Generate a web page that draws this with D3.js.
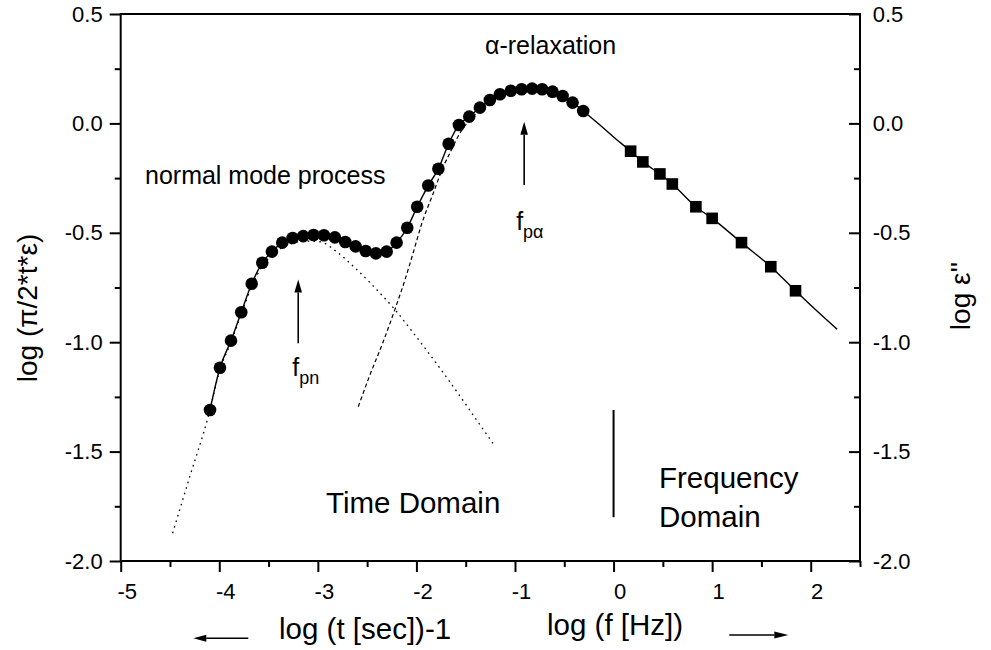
<!DOCTYPE html>
<html>
<head>
<meta charset="utf-8">
<script src="https://cdn.jsdelivr.net/npm/d3@7"></script>
<style>
  body { margin: 0; background: #fff; }
  svg { display: block; }
  text { font-family: "Liberation Sans", Arial, Helvetica, sans-serif; fill: #000; }
</style>
</head>
<body>
<svg id="chart" width="991" height="650"></svg>
<script>
// Time-domain measurements (circles), converted to loss
const circleX = [-4.094, -3.993, -3.881, -3.777, -3.671, -3.564, -3.466, -3.361, -3.256, -3.148,
                 -3.043, -2.938, -2.827, -2.722, -2.617, -2.515, -2.411, -2.302, -2.201, -2.093,
                 -1.992, -1.880, -1.777, -1.673, -1.569, -1.464, -1.356, -1.255, -1.153, -1.042,
                 -0.933, -0.826, -0.724, -0.619, -0.517, -0.416, -0.308];
const circleY = [-1.310, -1.117, -0.993, -0.863, -0.733, -0.637, -0.586, -0.545, -0.524, -0.515,
                 -0.510, -0.511, -0.521, -0.542, -0.562, -0.583, -0.594, -0.586, -0.545, -0.477,
                 -0.381, -0.284, -0.207, -0.093, -0.007, 0.031, 0.072, 0.107, 0.133, 0.149,
                 0.156, 0.159, 0.156, 0.145, 0.125, 0.095, 0.057];

// Frequency-domain measurements (squares)
const squareX = [0.173, 0.297, 0.470, 0.596, 0.835, 1.000, 1.298, 1.595, 1.846];
const squareY = [-0.127, -0.176, -0.231, -0.277, -0.381, -0.434, -0.545, -0.655, -0.765];

// Total fit (solid line)
const totalFitX = [-4.094, -3.993, -3.881, -3.777, -3.671, -3.564, -3.466, -3.361, -3.256, -3.148,
                   -3.043, -2.938, -2.827, -2.722, -2.617, -2.515, -2.411, -2.302, -2.201, -2.093,
                   -1.992, -1.880, -1.777, -1.673, -1.569, -1.464, -1.356, -1.255, -1.153, -1.042,
                   -0.933, -0.826, -0.724, -0.619, -0.517, -0.416, -0.308, -0.150, 0.000,
                   0.173, 0.297, 0.470, 0.596, 0.835, 1.000, 1.298, 1.595, 1.846, 2.050, 2.268];
const totalFitY = [-1.310, -1.117, -0.993, -0.863, -0.733, -0.637, -0.586, -0.545, -0.524, -0.515,
                   -0.510, -0.511, -0.521, -0.542, -0.562, -0.583, -0.594, -0.586, -0.545, -0.477,
                   -0.381, -0.284, -0.207, -0.093, -0.007, 0.031, 0.072, 0.107, 0.133, 0.149,
                   0.156, 0.159, 0.156, 0.145, 0.125, 0.095, 0.057, -0.003, -0.062,
                   -0.127, -0.176, -0.231, -0.277, -0.381, -0.434, -0.545, -0.655, -0.765, -0.852, -0.941];

// Normal mode contribution (dotted)
const normalFitX = [-4.473, -4.297, -4.115, -3.993, -3.881, -3.777, -3.671, -3.564, -3.466, -3.361,
                    -3.256, -3.148, -2.980, -2.810, -2.660, -2.470, -2.340, -2.220, -2.070, -1.900,
                    -1.730, -1.560, -1.390, -1.204];
const normalFitY = [-1.873, -1.611, -1.345, -1.125, -1.000, -0.872, -0.745, -0.652, -0.603, -0.568,
                    -0.548, -0.538, -0.541, -0.586, -0.645, -0.728, -0.790, -0.850, -0.935, -1.035,
                    -1.138, -1.245, -1.355, -1.475];

// Alpha relaxation contribution (dashed)
const alphaFitX = [-2.590, -2.472, -2.337, -2.218, -2.117, -2.032, -1.947, -1.830, -1.720, -1.660,
                   -1.559, -1.460, -1.360, -1.250];
const alphaFitY = [-1.295, -1.150, -0.998, -0.850, -0.716, -0.590, -0.460, -0.320, -0.190, -0.135,
                   -0.045, 0.015, 0.058, 0.095];

// Peak markers: position and arrow span
const peakNames = ["pn", "p\u03b1"];
const peakX = [-3.199, -0.907];
const peakArrowFrom = [-1.005, -0.282];
const peakArrowTo = [-0.713, 0.008];

// Boundary between the two domains
const boundaryX = [0, 0];
const boundaryY = [-1.31, -1.80];

const xTicks = [-5, -4, -3, -2, -1, 0, 1, 2];
const xMinorTicks = [-4.5, -3.5, -2.5, -1.5, -0.5, 0.5, 1.5, 2.5];
const yTicks = [-2.0, -1.5, -1.0, -0.5, 0.0, 0.5];
const yMinorTicks = [-1.75, -1.25, -0.75, -0.25, 0.25];

const svg = d3.select("#chart");
svg.append("rect").attr("width", 991).attr("height", 650).attr("fill", "#fff");

const plotLeft = 120.7, plotRight = 860, plotTop = 14, plotBottom = 561;
const x = d3.scaleLinear().domain([-5, 2.5]).range([plotLeft, plotRight]);
const y = d3.scaleLinear().domain([-2, 0.5]).range([plotBottom, plotTop]);

const TICK_FONT = 22;

function styleAxis(g) {
  g.select(".domain").remove();
  g.selectAll(".tick line").attr("stroke", "#000").attr("stroke-width", 2);
  g.selectAll(".tick text")
    .attr("fill", "#000")
    .style("font-size", TICK_FONT + "px")
    .style("font-family", '"Liberation Sans", Arial, sans-serif');
}

// Bottom axis
svg.append("g").attr("transform", `translate(0,${plotBottom})`)
  .call(d3.axisBottom(x).tickValues(xTicks).tickSize(11).tickPadding(11)
        .tickFormat(d => String(d)))
  .call(styleAxis)
  .call(g => g.selectAll(".tick text").attr("dx", 6));
svg.append("g").attr("transform", `translate(0,${plotBottom})`)
  .call(d3.axisBottom(x).tickValues(xMinorTicks).tickSize(6).tickFormat(""))
  .call(styleAxis);

// Left axis
svg.append("g").attr("transform", `translate(${plotLeft},0)`)
  .call(d3.axisLeft(y).tickValues(yTicks).tickSize(11).tickPadding(7)
        .tickFormat(d => d.toFixed(1)))
  .call(styleAxis);
svg.append("g").attr("transform", `translate(${plotLeft},0)`)
  .call(d3.axisLeft(y).tickValues(yMinorTicks).tickSize(6).tickFormat(""))
  .call(styleAxis);

// Right axis (ticks pointing inward)
svg.append("g").attr("transform", `translate(${plotRight},0)`)
  .call(d3.axisRight(y).tickValues(yTicks).tickSize(-11).tickPadding(12.7)
        .tickFormat(d => d.toFixed(1)))
  .call(styleAxis);
svg.append("g").attr("transform", `translate(${plotRight},0)`)
  .call(d3.axisRight(y).tickValues(yMinorTicks).tickSize(-6).tickFormat(""))
  .call(styleAxis);

// Frame
svg.append("rect")
  .attr("x", plotLeft).attr("y", plotTop)
  .attr("width", plotRight - plotLeft).attr("height", plotBottom - plotTop)
  .attr("fill", "none").attr("stroke", "#000").attr("stroke-width", 2);

const zip = (xs, ys) => xs.map((v, i) => [v, ys[i]]);
const line = d3.line().x(d => x(d[0])).y(d => y(d[1])).curve(d3.curveMonotoneX);

// Component fits
svg.append("path").datum(zip(normalFitX, normalFitY))
  .attr("d", line).attr("fill", "none").attr("stroke", "#000")
  .attr("stroke-width", 1.3).attr("stroke-dasharray", "1.6,4.2");
svg.append("path").datum(zip(alphaFitX, alphaFitY))
  .attr("d", line).attr("fill", "none").attr("stroke", "#000")
  .attr("stroke-width", 1.2).attr("stroke-dasharray", "4,2.8");

// Total fit
svg.append("path").datum(zip(totalFitX, totalFitY))
  .attr("d", line).attr("fill", "none").attr("stroke", "#000")
  .attr("stroke-width", 1.4);

// Markers
svg.append("g").selectAll("circle").data(zip(circleX, circleY)).join("circle")
  .attr("cx", d => x(d[0])).attr("cy", d => y(d[1])).attr("r", 6.3).attr("fill", "#000");
const sq = 11.6;
svg.append("g").selectAll("rect").data(zip(squareX, squareY)).join("rect")
  .attr("x", d => x(d[0]) - sq / 2).attr("y", d => y(d[1]) - sq / 2)
  .attr("width", sq).attr("height", sq).attr("fill", "#000");

// Arrow helper (pixel coordinates)
function arrow(x1, y1, x2, y2, len = 13, half = 3.8, w = 1.6) {
  const a = Math.atan2(y2 - y1, x2 - x1);
  const bx = x2 - len * Math.cos(a), by = y2 - len * Math.sin(a);
  svg.append("line").attr("x1", x1).attr("y1", y1).attr("x2", bx).attr("y2", by)
    .attr("stroke", "#000").attr("stroke-width", w);
  const px = -Math.sin(a) * half, py = Math.cos(a) * half;
  svg.append("path")
    .attr("d", `M${x2},${y2}L${bx + px},${by + py}L${bx - px},${by - py}Z`)
    .attr("fill", "#000");
}

// Peak arrows and labels
const labelDrop = [33, 45];
const labelShift = [-6, -8];
peakX.forEach((px, i) => {
  const ax = x(px);
  arrow(ax, y(peakArrowFrom[i]), ax, y(peakArrowTo[i]));
  const by = y(peakArrowFrom[i]) + labelDrop[i];
  const t = svg.append("text").attr("x", ax + labelShift[i]).attr("y", by)
    .style("font-size", "25px").text("f");
  t.append("tspan").attr("dy", 8).style("font-size", "18px").text(peakNames[i]);
});

// Domain boundary
svg.append("line")
  .attr("x1", x(boundaryX[0])).attr("y1", y(boundaryY[0]))
  .attr("x2", x(boundaryX[1])).attr("y2", y(boundaryY[1]))
  .attr("stroke", "#000").attr("stroke-width", 2);

// Annotations
function label(txt, px, py, size) {
  return svg.append("text").attr("x", px).attr("y", py).style("font-size", size + "px").text(txt);
}
label("\u03b1-relaxation", 485, 54, 25);
label("normal mode process", 145, 184, 25);
label("Time Domain", 326, 513, 29.5);
label("Frequency", 659, 488, 29.5);
label("Domain", 659, 527, 29.5);

// Axis titles
label("log (t [sec])-1", 279, 639, 29.5);
label("log (f [Hz])", 547, 635, 29.5);
arrow(248.3, 638.3, 193.3, 638.3, 13, 3.5, 1.6);
arrow(729.3, 635, 788.3, 635, 14, 3.5, 1.6);

svg.append("text")
  .attr("transform", "translate(37,308) rotate(-90)")
  .attr("text-anchor", "middle").style("font-size", "28px")
  .text("log (\u03c0/2*t*\u03b5)");
svg.append("text")
  .attr("transform", "translate(970,296) rotate(-90)")
  .attr("text-anchor", "middle").style("font-size", "28px")
  .text("log \u03b5''");
</script>
</body>
</html>
